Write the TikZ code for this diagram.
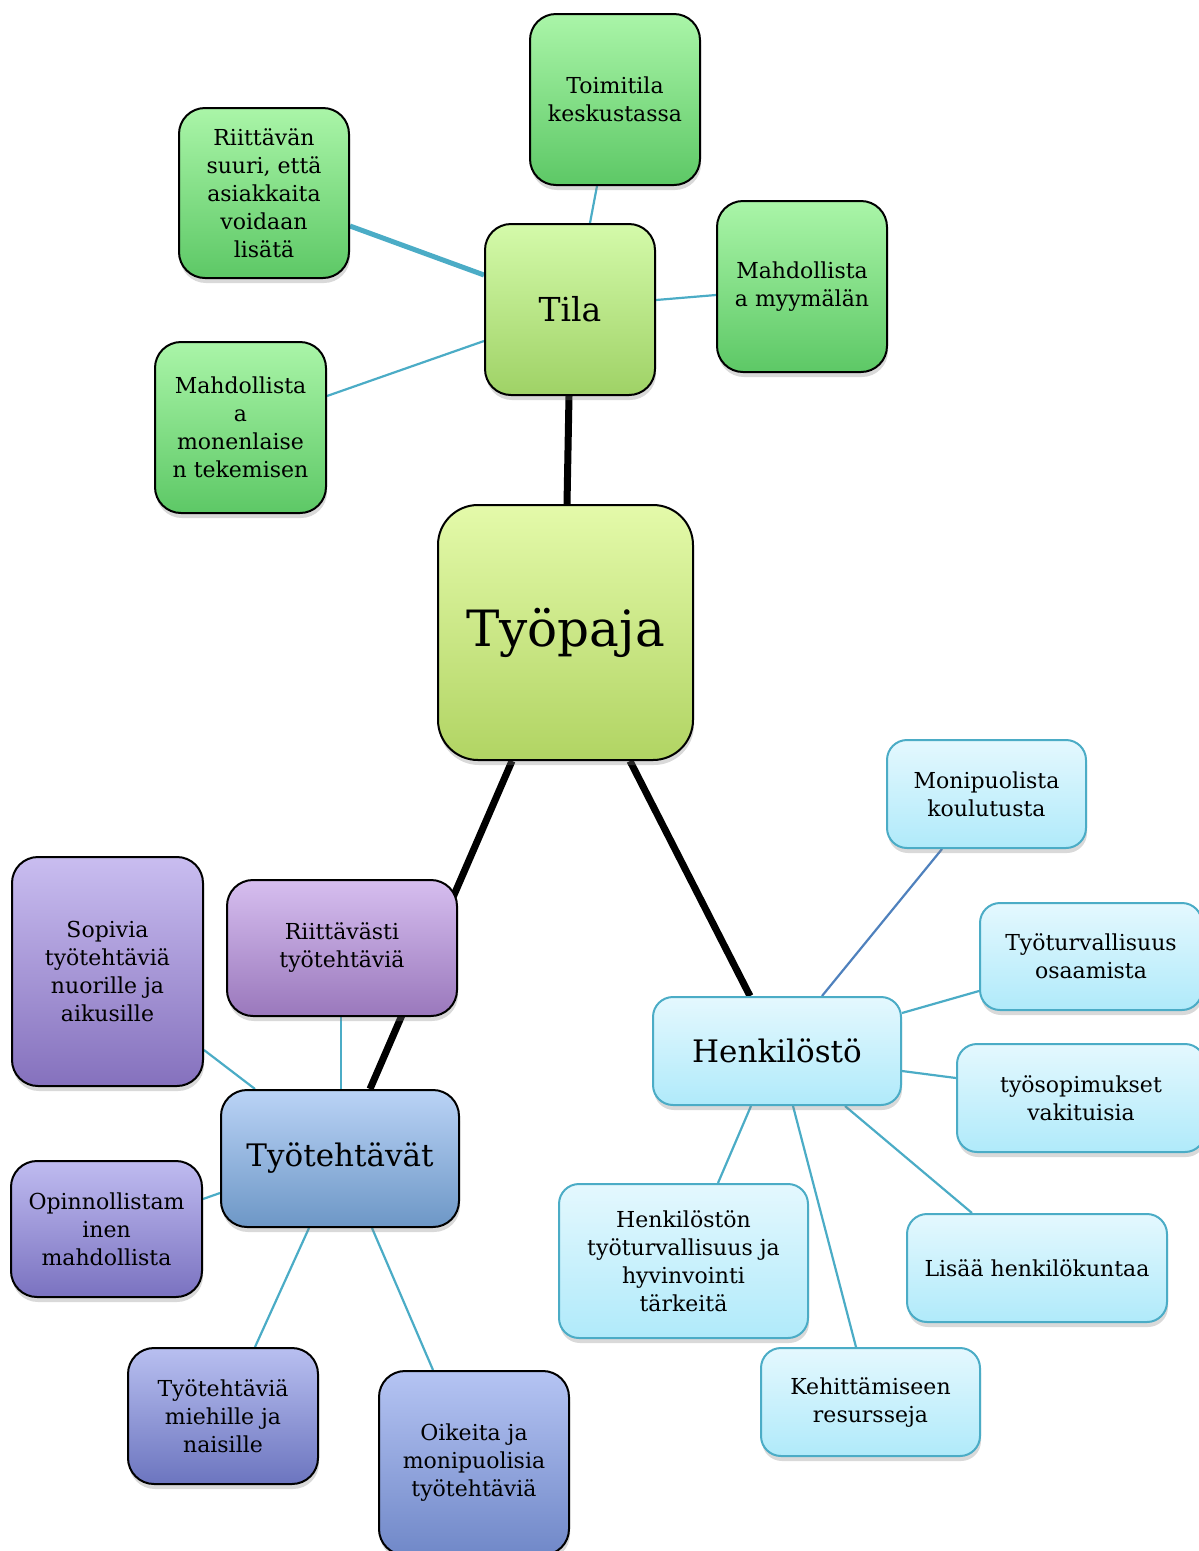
\documentclass[tikz,border=0pt]{standalone}
\usepackage{fontspec}
\setmainfont{DejaVu Serif}
\usetikzlibrary{shadows,backgrounds}
\definecolor{cyanline}{HTML}{4BACC6}
\definecolor{blueline}{HTML}{4F81BD}
\tikzset{
  box/.style={draw=black, line width=2pt, rounded corners=26pt, inner sep=0pt, align=center,
    font=\fontsize{22}{28}\selectfont,
    drop shadow={opacity=0.3, shadow xshift=1pt, shadow yshift=-5pt}},
  greenbox/.style={box, top color=green!0!white!60!cgtop, bottom color=cgbot},
  cyanbox/.style={box, draw=cyanline, rounded corners=20pt, top color=cctop, bottom color=ccbot},
  link/.style={draw=cyanline, line width=2.2pt},
  trunk/.style={draw=black, line width=7pt},
}
\definecolor{cgtop}{HTML}{AAF5A8}
\definecolor{cgbot}{HTML}{5DC866}
\definecolor{cctop}{HTML}{E4F8FE}
\definecolor{ccbot}{HTML}{B0EAFA}
\begin{document}
\begin{tikzpicture}[x=1pt,y=-1pt]
\useasboundingbox (0,0) rectangle (1199,1551);
% Tila group
\node[box, top color=cgtop, bottom color=cgbot, minimum width=170pt, minimum height=171pt] (toim) at (615,99.5) {Toimitila\\keskustassa};
\node[box, top color=cgtop, bottom color=cgbot, minimum width=170pt, minimum height=170pt] (riit) at (264,193) {Riittävän\\suuri, että\\asiakkaita\\voidaan\\lisätä};
\node[box, top color=cgtop, bottom color=cgbot, minimum width=170pt, minimum height=171pt] (myym) at (802,286.5) {Mahdollista\\a myymälän};
\node[box, top color=cgtop, bottom color=cgbot, minimum width=171pt, minimum height=171pt] (monen) at (240.5,427.5) {Mahdollista\\a\\monenlaise\\n tekemisen};
\node[box, top color={rgb,255:red,212;green,250;blue,170}, bottom color={rgb,255:red,159;green,210;blue,102}, minimum width=170pt, minimum height=171pt, font=\fontsize{33}{40}\selectfont] (tila) at (570,309.5) {Tila};
\node[box, rounded corners=40pt, top color={rgb,255:red,228;green,250;blue,170}, bottom color={rgb,255:red,177;green,212;blue,99}, minimum width=255pt, minimum height=255pt, font=\fontsize{50}{60}\selectfont] (tyopaja) at (565.5,632.5) {Työpaja};
% Työtehtävät group
\node[box, top color={rgb,255:red,201;green,189;blue,240}, bottom color={rgb,255:red,133;green,113;blue,189}, minimum width=191pt, minimum height=229pt] (sopivia) at (107.5,971.5) {Sopivia\\työtehtäviä\\nuorille ja\\aikusille};
\node[box, top color={rgb,255:red,214;green,190;blue,239}, bottom color={rgb,255:red,154;green,120;blue,188}, minimum width=230pt, minimum height=136pt] (riitv) at (342,948) {Riittävästi\\työtehtäviä};
\node[box, top color={rgb,255:red,186;green,211;blue,246}, bottom color={rgb,255:red,109;green,151;blue,198}, minimum width=238pt, minimum height=137pt, font=\fontsize{31}{38}\selectfont] (tyot) at (340,1158.5) {Työtehtävät};
\node[box, top color={rgb,255:red,191;green,187;blue,240}, bottom color={rgb,255:red,122;green,114;blue,192}, minimum width=191pt, minimum height=136pt] (opinn) at (106.5,1229) {Opinnollistam\\inen\\mahdollista};
\node[box, top color={rgb,255:red,184;green,191;blue,240}, bottom color={rgb,255:red,108;green,117;blue,191}, minimum width=190pt, minimum height=136pt] (mieh) at (223,1416) {Työtehtäviä\\miehille ja\\naisille};
\node[box, top color={rgb,255:red,181;green,196;blue,243}, bottom color={rgb,255:red,112;green,136;blue,200}, minimum width=190pt, minimum height=184pt] (oik) at (474,1463) {Oikeita ja\\monipuolisia\\työtehtäviä};
% Henkilöstö group
\node[cyanbox, minimum width=248pt, minimum height=108pt, font=\fontsize{31}{38}\selectfont] (henk) at (777,1051) {Henkilöstö};
\node[cyanbox, minimum width=199pt, minimum height=108pt] (moni) at (986.5,794) {Monipuolista\\koulutusta};
\node[cyanbox, minimum width=222pt, minimum height=107pt] (tyotu) at (1091,956.5) {Työturvallisuus\\osaamista};
\node[cyanbox, minimum width=248pt, minimum height=108pt] (tyoso) at (1081,1098) {työsopimukset\\vakituisia};
\node[cyanbox, minimum width=249pt, minimum height=154pt] (henkt) at (683.5,1261) {Henkilöstön\\työturvallisuus ja\\hyvinvointi\\tärkeitä};
\node[cyanbox, minimum width=260pt, minimum height=108pt] (lisaa) at (1037,1268) {Lisää henkilökuntaa};
\node[cyanbox, minimum width=219pt, minimum height=108pt] (kehit) at (870.5,1402) {Kehittämiseen\\resursseja};
% connectors
\begin{pgfonlayer}{background}
\draw[trunk] ([xshift=-1pt]tila.south) -- ([xshift=1.5pt]tyopaja.north);
\draw[trunk] ([xshift=-53.5pt]tyopaja.south) -- ([xshift=30pt]tyot.north);
\draw[trunk] ([xshift=64.5pt]tyopaja.south) -- ([xshift=-27pt]henk.north);
\draw[link] ([xshift=20pt]tila.north) -- ([xshift=-18pt]toim.south);
\draw[link, line width=5pt] ([yshift=34.5pt]tila.west) -- ([yshift=-33pt]riit.east);
\draw[link] ([yshift=-31.5pt]tila.west) -- ([yshift=31.5pt]monen.east);
\draw[link] ([yshift=9.5pt]tila.east) -- ([yshift=-8.5pt]myym.west);
\draw[link] ([xshift=1pt]tyot.north) -- ([xshift=-1pt]riitv.south);
\draw[link] ([xshift=-85pt]tyot.north) -- ([yshift=-78.5pt]sopivia.east);
\draw[link] ([yshift=-34.5pt]tyot.west) -- ([yshift=30pt]opinn.east);
\draw[link] ([xshift=-31pt]tyot.south) -- ([xshift=32pt]mieh.north);
\draw[link] ([xshift=32pt]tyot.south) -- ([xshift=-41pt]oik.north);
\draw[link, draw=blueline] ([xshift=45pt]henk.north) -- ([xshift=-44.5pt]moni.south);
\draw[link] ([yshift=38pt]henk.east) -- ([yshift=-34.5pt]tyotu.west);
\draw[link] ([yshift=-20pt]henk.east) -- ([yshift=20pt]tyoso.west);
\draw[link] ([xshift=-26pt]henk.south) -- ([xshift=34.5pt]henkt.north);
\draw[link] ([xshift=16pt]henk.south) -- ([xshift=-14.5pt]kehit.north);
\draw[link] ([xshift=68pt]henk.south) -- ([xshift=-65pt]lisaa.north);
\end{pgfonlayer}
\end{tikzpicture}
\end{document}
